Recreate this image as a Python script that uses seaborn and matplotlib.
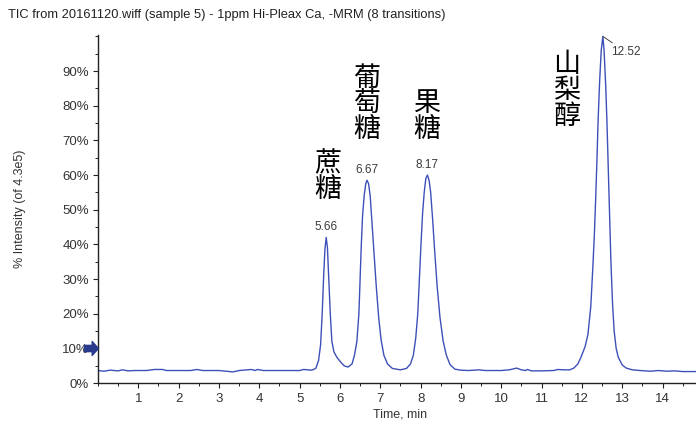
import matplotlib
matplotlib.use("Agg")
import matplotlib.pyplot as plt
from matplotlib.ticker import MultipleLocator, FuncFormatter
import seaborn as sns
import pandas as pd

# TIC trace: retention time (min) and relative intensity (% of 4.3e5)
time_min = [
    0.00, 0.15, 0.30, 0.50, 0.60, 0.75, 0.90, 1.20, 1.40, 1.60, 1.70, 2.00,
    2.30, 2.45, 2.60, 3.00, 3.35, 3.50, 3.80, 3.90, 3.95, 4.10, 4.50, 5.00,
    5.10, 5.30, 5.40, 5.47, 5.52, 5.56, 5.60, 5.63, 5.66, 5.69, 5.72, 5.76,
    5.80, 5.85, 5.92, 6.00, 6.10, 6.20, 6.30, 6.36, 6.42, 6.47, 6.50, 6.53,
    6.56, 6.60, 6.64, 6.67, 6.71, 6.75, 6.79, 6.84, 6.90, 6.96, 7.02, 7.09,
    7.18, 7.30, 7.50, 7.65, 7.75, 7.82, 7.88, 7.93, 7.97, 8.01, 8.05, 8.09,
    8.13, 8.17, 8.21, 8.25, 8.30, 8.35, 8.41, 8.48, 8.56, 8.64, 8.73, 8.85,
    9.00, 9.20, 9.45, 9.60, 10.00, 10.20, 10.38, 10.50, 10.60, 10.65, 10.75,
    11.00, 11.30, 11.40, 11.55, 11.70, 11.80, 11.90, 11.98, 12.08, 12.15,
    12.22, 12.27, 12.31, 12.34, 12.37, 12.40, 12.44, 12.48, 12.52, 12.55,
    12.59, 12.62, 12.65, 12.68, 12.72, 12.76, 12.80, 12.85, 12.90, 13.00,
    13.10, 13.25, 13.44, 13.70, 13.90, 14.10, 14.30, 14.50, 14.83,
]
intensity_pct = [
    3.6, 3.4, 3.7, 3.5, 3.8, 3.5, 3.6, 3.6, 3.9, 3.9, 3.6, 3.6,
    3.6, 3.9, 3.6, 3.6, 3.2, 3.6, 3.9, 3.6, 3.9, 3.6, 3.6, 3.6,
    3.9, 3.7, 4.2, 6.5, 11.0, 20.0, 32.0, 39.0, 42.0, 39.0, 31.0, 20.0,
    12.0, 9.0, 7.5, 6.3, 5.0, 4.6, 5.5, 8.0, 12.0, 20.0, 30.0, 40.0,
    48.0, 54.0, 57.5, 58.5, 57.5, 54.0, 47.0, 38.0, 28.0, 19.0, 12.5, 8.0,
    5.5, 4.2, 3.8, 4.2, 5.5, 8.0, 13.0, 20.0, 30.0, 40.0, 49.0, 55.0,
    59.0, 60.0, 58.5, 55.0, 47.0, 38.0, 28.0, 19.0, 12.0, 8.0, 5.3, 4.0,
    3.7, 3.6, 3.8, 3.6, 3.6, 3.8, 4.3, 3.8, 3.6, 3.9, 3.5,
    3.5, 3.6, 3.9, 3.8, 3.8, 4.3, 5.5, 7.5, 10.5, 14.0,
    22.0, 33.0, 43.0, 52.5, 63.0, 75.0, 87.0, 96.0, 100.0, 96.0,
    86.0, 76.0, 64.0, 51.0, 35.0, 23.0, 15.0, 10.0, 7.5, 5.2,
    4.3, 3.8, 3.6, 3.4, 3.6, 3.4, 3.5, 3.3, 3.3,
]

# Labelled peaks
peak_times = [5.66, 6.67, 8.17, 12.52]
peak_heights = [42.0, 58.5, 60.0, 100.0]
compound_names = ["蔗糖", "葡萄糖", "果糖", "山梨醇"]
name_pos_x = [5.69, 6.67, 8.16, 11.63]
name_pos_y = [59.6, 80.5, 76.9, 84.5]

x_ticks = list(range(1, 15))
y_ticks = list(range(0, 100, 10))

title_text = "TIC from 20161120.wiff (sample 5) - 1ppm Hi-Pleax Ca, -MRM (8 transitions)"

sns.set_theme(style="ticks")
plt.rcParams["font.family"] = ["Liberation Sans", "Noto Sans CJK SC", "DejaVu Sans"]

fig = plt.figure(figsize=(6.96, 4.24), dpi=100)
ax = fig.add_axes([98 / 696, 1 - 383 / 424, 1 - 98 / 696, 348 / 424])

df = pd.DataFrame({"time": time_min, "intensity": intensity_pct})
sns.lineplot(data=df, x="time", y="intensity", ax=ax, color="#3d50b8",
             lw=1.0, estimator=None, sort=False)

ax.set_xlim(0, 14.83)
ax.set_ylim(0, 100.4)
ax.set_xticks(x_ticks)
ax.set_yticks(y_ticks)
ax.xaxis.set_minor_locator(MultipleLocator(0.5))
ax.yaxis.set_minor_locator(MultipleLocator(5))
ax.yaxis.set_major_formatter(FuncFormatter(lambda v, p: f"{int(round(v))}%"))

for side in ("top", "right"):
    ax.spines[side].set_visible(False)
for side in ("left", "bottom"):
    ax.spines[side].set_color("#222222")
    ax.spines[side].set_linewidth(1.0)

ax.tick_params(axis="both", which="major", length=3.5, width=0.8,
               color="#222222", labelsize=9.5, labelcolor="#333333", pad=3)
ax.tick_params(axis="x", which="major", pad=4)
ax.tick_params(axis="both", which="minor", length=2, width=0.7, color="#222222")

ax.set_xlabel("Time, min", fontsize=9, color="#333333")
ax.set_ylabel("% Intensity (of 4.3e5)", fontsize=9, color="#333333")
ax.xaxis.set_label_coords(0.505, -0.074)
ax.yaxis.set_label_coords(-0.12, 0.5)

# Retention-time labels above each peak
for t, h in zip(peak_times[:3], peak_heights[:3]):
    ax.annotate(f"{t:.2f}", xy=(t, h), xytext=(0, 3), textcoords="offset points",
                ha="center", va="bottom", fontsize=8.5, color="#3a3a3a")
t, h = peak_times[3], peak_heights[3]
ax.annotate(f"{t:.2f}", xy=(t, h), xytext=(6, -7), textcoords="offset points",
            ha="left", va="top", fontsize=8.5, color="#3a3a3a",
            arrowprops=dict(arrowstyle="-", color="#444444", lw=0.7,
                            shrinkA=0, shrinkB=0))

# Compound names, written top to bottom
for name, x, y in zip(compound_names, name_pos_x, name_pos_y):
    ax.text(x, y, "\n".join(name), ha="center", va="center", fontsize=19.5,
            color="black", family=["Noto Sans CJK SC"], linespacing=0.95)

# Threshold marker on the intensity axis
arrow_marker = [(-1, -0.45), (0.1, -0.45), (0.1, -1), (1, 0), (0.1, 1),
                (0.1, 0.45), (-1, 0.45), (-1, -0.45)]
ax.plot([-0.18], [10], marker=arrow_marker, markersize=10, color="#2a3a8c",
        clip_on=False, zorder=5)

fig.text(8 / 696, 1 - 15 / 424, title_text, ha="left", va="center",
         fontsize=9.3, color="#222222")

fig.savefig("out.png", dpi=100)
